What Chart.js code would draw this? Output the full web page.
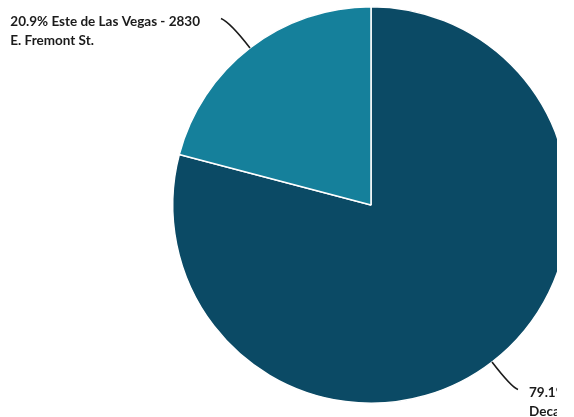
<!DOCTYPE html>
<html>
<head>
<meta charset="utf-8">
<script src="https://cdn.jsdelivr.net/npm/chart.js@4"></script>
<style>
    html, body { margin: 0; padding: 0; background: #fff; }
    .wrap { position: relative; width: 557px; height: 417px; overflow: hidden; }
    .wrap canvas { position: absolute; left: 0; top: 0; }
</style>
</head>
<body>
<div class="wrap">
    <canvas id="pieChart" width="742" height="417" style="width:742px;height:417px"></canvas>
</div>
<script>
// ==========================================
// DATA
// ==========================================
const labels = [
    ['79.1% Noroeste de Las Vegas -', 'Decatur Blvd.'],
    ['20.9% Este de Las Vegas - 2830', 'E. Fremont St.']
];
const values = [79.1, 20.9];
const colors = ['#0b4a65', '#15809b'];

// ==========================================
// LEADER LINE LABELS
// ==========================================
const leaderLabels = {
    id: 'leaderLabels',
    afterDraw(chart) {
        const ctx = chart.ctx;
        const meta = chart.getDatasetMeta(0);
        ctx.save();
        ctx.font = 'bold 13.5px Lato, "Open Sans", sans-serif';
        ctx.fillStyle = '#1b1b1b';
        ctx.strokeStyle = '#1b1b1b';
        ctx.lineWidth = 1.6;
        ctx.textBaseline = 'middle';
        meta.data.forEach((arc, i) => {
            const p = arc.getProps(['x', 'y', 'startAngle', 'endAngle', 'outerRadius'], true);
            const mid = (p.startAngle + p.endAngle) / 2;
            const cos = Math.cos(mid), sin = Math.sin(mid);
            const right = cos >= 0;
            const r = p.outerRadius;
            const x0 = p.x + cos * r, y0 = p.y + sin * r;
            const cx = p.x + cos * (r + 32), cy = p.y + sin * (r + 32);
            const ex = p.x + cos * (r + 36) + (right ? 4 : -7);
            const ey = p.y + sin * (r + 36) - 1;
            ctx.beginPath();
            ctx.moveTo(x0, y0);
            ctx.quadraticCurveTo(cx, cy, ex, ey);
            ctx.stroke();

            const lines = labels[i];
            const w = Math.max(...lines.map(t => ctx.measureText(t).width));
            const tx = right ? ex + 11 : ex - 21 - w;
            ctx.textAlign = 'left';
            lines.forEach((t, k) => ctx.fillText(t, tx, ey + 3 + k * 19));
        });
        ctx.restore();
    }
};

// ==========================================
// CHART
// ==========================================
new Chart(document.getElementById('pieChart'), {
    type: 'pie',
    data: {
        labels: labels.map(l => l.join(' ')),
        datasets: [{
            data: values,
            backgroundColor: colors,
            borderColor: '#ffffff',
            borderWidth: 1.5
        }]
    },
    options: {
        responsive: false,
        animation: false,
        layout: { padding: { top: 6, bottom: 13 } },
        plugins: {
            legend: { display: false },
            tooltip: { enabled: false }
        }
    },
    plugins: [leaderLabels]
});
</script>
</body>
</html>
